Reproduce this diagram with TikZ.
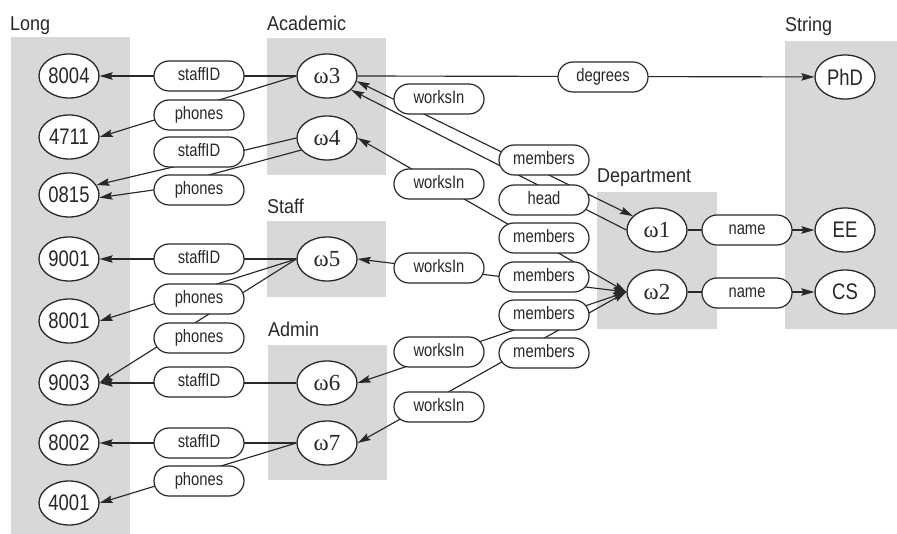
\documentclass[tikz,border=0pt]{standalone}
\usepackage{fontspec}
\usetikzlibrary{shapes.geometric,arrows.meta}
\newfontfamily\lblfont[FakeStretch=0.82]{Liberation Sans}
\newfontfamily\ttlfont[FakeStretch=0.9]{Liberation Sans}
\newfontfamily\omgfont{Liberation Serif}
\definecolor{ink}{RGB}{40,40,40}
\definecolor{boxgray}{RGB}{216,216,216}
\pgfdeclarelayer{bg}
\pgfdeclarelayer{edges}
\pgfsetlayers{bg,edges,main}

\begin{document}
\begin{tikzpicture}[x=1pt,y=-1pt,
  >={Stealth[length=13pt,width=7.5pt,inset=2pt]},
  typebox/.style={fill=boxgray, draw=none},
  typename/.style={anchor=base west, inner sep=0pt, text=ink,
    font=\ttlfont\fontsize{20}{20}\selectfont},
  val/.style={ellipse, draw=ink, line width=1.3pt, fill=white,
    minimum width=60pt, minimum height=44pt, inner sep=0pt, text=ink,
    font=\lblfont\fontsize{22.5}{22.5}\selectfont},
  oid/.style={val, font=\omgfont\fontsize{23}{23}\selectfont},
  pill/.style={rectangle, rounded corners=15pt, draw=ink, line width=1.2pt,
    fill=white, minimum width=90pt, minimum height=30pt, inner sep=0pt,
    text=ink, font=\lblfont\fontsize{18}{18}\selectfont,
    text height=12.5pt, text depth=3.5pt},
  link/.style={draw=ink, line width=1.15pt}
]
\useasboundingbox (0,0) rectangle (897,534);

% type extents
\begin{pgfonlayer}{bg}
  \path[typebox] (11,37) rectangle (130,534);
  \path[typebox] (267,38) rectangle (386,175);
  \path[typebox] (267,221) rectangle (386,297);
  \path[typebox] (268,345) rectangle (387,480);
  \path[typebox] (597,192) rectangle (717,329);
  \path[typebox] (785,41) rectangle (897,329);
\end{pgfonlayer}

% type names
\node[typename] (tLong) at (10,31) {Long};
\node[typename] (tAcad) at (267,31) {Academic};
\node[typename] (tStr) at (785,32) {String};
\node[typename] (tDept) at (597,183) {Department};
\node[typename] (tStaff) at (267,214) {Staff};
\node[typename] (tAdmin) at (268,337) {Admin};

% Long values
\node[val] (v8004) at (69,76) {8004};
\node[val] (v4711) at (69,137) {4711};
\node[val] (v0815) at (69,195) {0815};
\node[val] (v9001) at (69,259) {9001};
\node[val] (v8001) at (69,321) {8001};
\node[val] (v9003) at (69,383) {9003};
\node[val] (v8002) at (69,443) {8002};
\node[val] (v4001) at (69,503) {4001};

% objects
\node[oid] (w3) at (327,76) {ω3};
\node[oid] (w4) at (327,138) {ω4};
\node[oid] (w5) at (327,259) {ω5};
\node[oid] (w6) at (327,383) {ω6};
\node[oid] (w7) at (327,443) {ω7};
\node[oid] (w1) at (657,230) {ω1};
\node[oid] (w2) at (657,292) {ω2};

% String values
\node[val] (phd) at (845,77) {PhD};
\node[val] (ee) at (845,230) {EE};
\node[val] (cs) at (845,292) {CS};

% attribute labels
\node[pill] (sid1) at (199,76) {staffID};
\node[pill] (ph1) at (199,115) {phones};
\node[pill] (sid2) at (199,152) {staffID};
\node[pill] (ph2) at (199,190) {phones};
\node[pill] (sid3) at (199,259) {staffID};
\node[pill] (ph3) at (199,299) {phones};
\node[pill] (ph4) at (199,338) {phones};
\node[pill] (sid4) at (199,382) {staffID};
\node[pill] (sid5) at (199,443) {staffID};
\node[pill] (ph5) at (199,481) {phones};

\node[pill] (wi1) at (439,99) {worksIn};
\node[pill] (wi2) at (439,184) {worksIn};
\node[pill] (wi3) at (439,268) {worksIn};
\node[pill] (wi4) at (439,352) {worksIn};
\node[pill] (wi5) at (439,407) {worksIn};

\node[pill] (mb1) at (544,160) {members};
\node[pill] (hd) at (544,200) {head};
\node[pill] (mb3) at (544,238) {members};
\node[pill] (mb4) at (544,277) {members};
\node[pill] (mb5) at (544,315) {members};
\node[pill] (mb6) at (544,353) {members};

\node[pill] (deg) at (603,77) {degrees};
\node[pill] (nm1) at (747,230) {name};
\node[pill] (nm2) at (747,293) {name};

% references between objects and values
\begin{pgfonlayer}{edges}
  \draw[link,->] (w3.west) -- (v8004);
  \draw[link,->] (w3.west) -- (v4711.east);
  \draw[link,->] (w3.east) -- (phd);
  \draw[link,<->] (w3.-10) -- (w1.150);
  \draw[link,->] (w1.west) -- (w3.-30);

  \draw[link,->] (w4.west) -- (v0815.20);
  \draw[link,->] (w4.205) -- (ph2.west) -- (v0815.-5);
  \draw[link,<->] (w4.east) -- (w2.west);

  \draw[link,->] (w5.west) -- (v9001);
  \draw[link,->] (w5.west) -- (v8001.east);
  \draw[link,->] (w5.west) -- (v9003.east);
  \draw[link,<->] (w5.east) -- (w2.west);

  \draw[link,->] (w6.west) -- (v9003);
  \draw[link,<->] (w6.east) -- (w2.west);

  \draw[link,->] (w7.west) -- (v8002);
  \draw[link,->] (w7.west) -- (v4001.east);
  \draw[link,<->] (w7.east) -- (w2.west);

  \draw[link,->] (w1.east) -- (ee);
  \draw[link,->] (w2.east) -- (cs);
\end{pgfonlayer}
\end{tikzpicture}
\end{document}
